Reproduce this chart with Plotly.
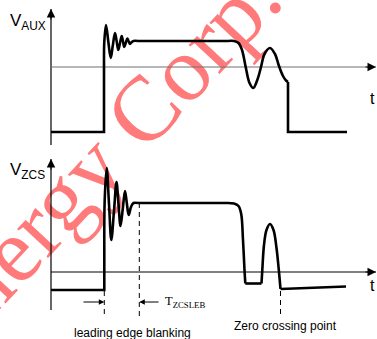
import plotly.graph_objects as go

W, H = 377, 339

# ---------------- data (pixel space) ----------------
# V_AUX waveform
aux_step_x = [51, 104, 104]
aux_step_y = [132, 132, 62]
aux_ring_x = [104, 104.3, 106, 108.3, 110.7, 112.8, 115, 116.7, 118.3, 120, 121.7, 123, 124.3, 125.8, 127.3, 128.6, 130, 131.5, 133.5, 138]
aux_ring_y = [62, 42, 25, 41.5, 58, 45.5, 33, 41.5, 50, 43, 36, 41.5, 47, 42.7, 38.5, 41.2, 44, 42.3, 41, 41]
aux_flat_x = [138, 228]
aux_flat_y = [41, 41]
aux_fall_x = [228, 234, 238.5, 242, 245.7, 249.5, 253.3, 257.3, 261, 264.5, 270, 275, 279, 283, 286, 288]
aux_fall_y = [41, 41, 43, 50, 67, 83, 88, 80, 67, 54, 48, 54, 66, 76, 80.5, 82]
aux_drop_x = [288, 288, 347]
aux_drop_y = [82, 132, 132]

# V_ZCS waveform
zcs_step_x = [51, 104.3, 104.3]
zcs_step_y = [290, 290, 250]
zcs_ring_x = [104.3, 104.7, 106.7, 109, 111.3, 114, 116.5, 118.5, 120.5, 122.8, 125, 126.8, 128.7, 131, 133.5, 138]
zcs_ring_y = [250, 200, 168, 204, 240, 211, 182, 204, 226, 208.5, 191, 203, 215, 207, 203, 203]
zcs_flat_x = [138, 226]
zcs_flat_y = [203, 203]
zcs_fall_x = [226, 234, 238.5, 241.2, 243, 244.5, 245.3]
zcs_fall_y = [203, 203.5, 206, 214, 240, 270, 283.5]
zcs_valley_x = [245.3, 261.5]
zcs_valley_y = [283.5, 283.5]
zcs_bump_x = [261.5, 262.3, 264, 266.5, 270, 273.5, 276.5, 278.8, 280.5]
zcs_bump_y = [283.5, 270, 245, 230, 224, 230, 248, 270, 289]
zcs_tail_x = [280.5, 346]
zcs_tail_y = [289, 286.5]

# axes
v_axis_x = 51
top_vaxis_y = [145, 9]
bot_vaxis_y = [310, 159]
h_axis_x = [51, 376]
top_haxis_y = 67
bot_haxis_y = 272

# dashed markers
dash_x = [104.3, 139.3, 280.5]
dash_y0 = [291, 203, 291]
dash_y1 = [318, 318, 316]

# blanking arrows
leb_arrow_y = 302
leb_left = (82, 104.3)
leb_right = (160, 139.3)

# texts
WATERMARK = "Energy Corp."
wm_center = (95, 162)

fig = go.Figure()

# watermark (bar-trace text so the waveforms draw above it)
fig.add_trace(go.Bar(
    x=[wm_center[0]], y=[100], base=[wm_center[1] - 50], width=[100],
    text=[WATERMARK], textposition="inside", insidetextanchor="middle",
    textangle=-47, constraintext="none", cliponaxis=False,
    insidetextfont=dict(family="Liberation Serif", size=92, color="rgb(255,122,122)"),
    marker=dict(color="rgba(0,0,0,0)", line=dict(width=0)),
    hoverinfo="skip", showlegend=False,
))

def line(x, y, color="black", width=2.6, shape="linear", dash=None):
    fig.add_trace(go.Scatter(
        x=x, y=y, mode="lines", hoverinfo="skip", showlegend=False,
        line=dict(color=color, width=width, shape=shape, dash=dash, smoothing=1),
    ))

# axes
line([v_axis_x, v_axis_x], top_vaxis_y, width=1.2)
line([v_axis_x, v_axis_x], bot_vaxis_y, width=1.2)
line(h_axis_x, [top_haxis_y, top_haxis_y], color="#707070", width=1.1)
line(h_axis_x, [bot_haxis_y, bot_haxis_y], color="black", width=1.2)

# dashed lines
for xd, y0, y1 in zip(dash_x, dash_y0, dash_y1):
    line([xd, xd], [y0, y1], width=1, dash="5px,4px")

# waveforms
line(aux_step_x, aux_step_y)
line(aux_ring_x, aux_ring_y, shape="spline")
line(aux_flat_x, aux_flat_y)
line(aux_fall_x, aux_fall_y, shape="spline")
line(aux_drop_x, aux_drop_y)

line(zcs_step_x, zcs_step_y)
line(zcs_ring_x, zcs_ring_y, shape="spline")
line(zcs_flat_x, zcs_flat_y)
line(zcs_fall_x, zcs_fall_y, shape="spline")
line(zcs_valley_x, zcs_valley_y)
line(zcs_bump_x, zcs_bump_y, shape="spline")
line(zcs_tail_x, zcs_tail_y)

ann = []
def arrow(tip, tail, size=1.7, width=1.0, color="black"):
    ann.append(dict(x=tip[0], y=tip[1], ax=tail[0], ay=tail[1], xref="x", yref="y",
                    axref="x", ayref="y", text="", showarrow=True, arrowhead=2,
                    arrowsize=size, arrowwidth=width, arrowcolor=color, standoff=0))

# axis arrowheads
arrow((v_axis_x, top_vaxis_y[1]), (v_axis_x, top_vaxis_y[1] + 12))
arrow((v_axis_x, bot_vaxis_y[1]), (v_axis_x, bot_vaxis_y[1] + 12))
arrow((h_axis_x[1], top_haxis_y), (h_axis_x[1] - 12, top_haxis_y))
arrow((h_axis_x[1], bot_haxis_y), (h_axis_x[1] - 12, bot_haxis_y))
# blanking arrows
arrow((leb_left[1], leb_arrow_y), (leb_left[0], leb_arrow_y), size=1.1)
arrow((leb_right[1], leb_arrow_y), (leb_right[0], leb_arrow_y), size=1.1)

def text(x, y, s, size=12, family="Liberation Sans", xanchor="center"):
    ann.append(dict(x=x, y=y, xref="x", yref="y", text=s, showarrow=False,
                    xanchor=xanchor, yanchor="middle",
                    font=dict(family=family, size=size, color="black")))

text(8, 22, "V<sub>AUX</sub>", size=17, xanchor="left")
text(8, 171, "V<sub>ZCS</sub>", size=17, xanchor="left")
text(372.5, 98, "t", size=16)
text(372.5, 285, "t", size=16)
text(163, 302, "T<sub>ZCSLEB</sub>", size=12.5, family="Liberation Serif", xanchor="left")
text(132, 333, "leading edge blanking", size=12)
text(285.5, 326, "Zero crossing point", size=12)

fig.update_layout(
    width=W, height=H, autosize=False,
    margin=dict(l=0, r=0, t=0, b=0),
    paper_bgcolor="white", plot_bgcolor="white",
    xaxis=dict(range=[0, W], visible=False, fixedrange=True),
    yaxis=dict(range=[H, 0], visible=False, fixedrange=True),
    annotations=ann, showlegend=False,
)

fig.write_html("out.html", config={"displayModeBar": False},
               post_script="document.body.style.margin='0';document.body.style.overflow='hidden';")
